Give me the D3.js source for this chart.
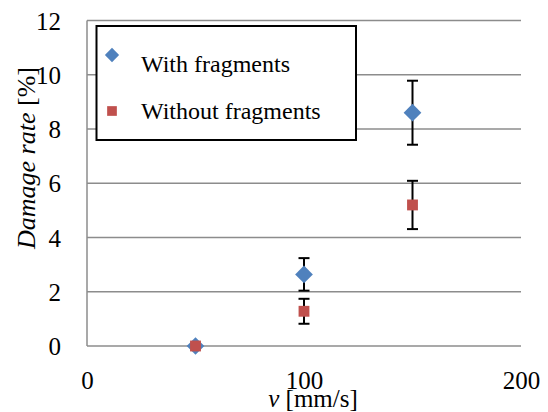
<!DOCTYPE html>
<html>
<head>
<meta charset="utf-8">
<script src="https://cdn.jsdelivr.net/npm/d3@7"></script>
</head>
<body style="margin:0">
<svg id="chart" width="548" height="412"></svg>
<script>
// speeds [mm/s]
var speeds = [50, 100, 150];
// damage rate [%] with error bars
var withFrag = [0, 2.64, 8.6];
var withErr = [0, 0.6, 1.18];
var withoutFrag = [0, 1.28, 5.2];
var withoutErr = [0, 0.46, 0.89];
var yTicks = [0, 2, 4, 6, 8, 10, 12];
var xTicks = [0, 100, 200];
var seriesNames = ["With fragments", "Without fragments"];

var serif = "Liberation Serif";

// put the serif face on a text both ways
function font(sel, size) {
  sel.attr("font-family", serif)
    .style("font-family", function () { return "'" + serif + "'"; })
    .style("font-size", size);
}

var svg = d3.select("#chart");
var margin = {top: 20.5, left: 87, right: 27, bottom: 66};
var width = 548 - margin.left - margin.right,
    height = 412 - margin.top - margin.bottom;

var g = svg.append("g")
  .attr("transform", "translate(" + margin.left + "," + margin.top + ")");

var x = d3.scaleLinear().domain([0, 200]).range([0, width]);
var y = d3.scaleLinear().domain([0, 12]).range([height, 0]);

// gridlines
g.selectAll(".grid")
  .data(yTicks)
  .enter()
  .append("line")
  .attr("x1", 0)
  .attr("x2", width)
  .attr("y1", function (d) { return y(d); })
  .attr("y2", function (d) { return y(d); })
  .attr("stroke", "#8c8c8c")
  .attr("stroke-width", 1.5);

// left axis line
g.append("line")
  .attr("x1", 0).attr("x2", 0)
  .attr("y1", 0).attr("y2", height)
  .attr("stroke", "#8c8c8c")
  .attr("stroke-width", 1.5);

// y axis labels
var yAxis = d3.axisLeft(y).tickValues(yTicks).tickSize(0).tickPadding(26);
g.append("g")
  .call(yAxis)
  .attr("font-family", serif)
  .attr("font-size", null)
  .call(function (s) { s.select(".domain").remove(); })
  .selectAll("text")
  .call(font, "25px")
  .attr("fill", "#000")
  .attr("dy", "0.34em");

// x axis labels
var xAxis = d3.axisBottom(x).tickValues(xTicks).tickSize(0).tickPadding(43);
g.append("g")
  .attr("transform", "translate(0," + height + ")")
  .call(xAxis)
  .attr("font-family", serif)
  .attr("font-size", null)
  .call(function (s) { s.select(".domain").remove(); })
  .selectAll("text")
  .call(font, "25px")
  .attr("fill", "#000")
  .attr("dy", "0");

// axis titles
var yt = svg.append("text")
  .attr("transform", "translate(35,158) rotate(-90)")
  .attr("text-anchor", "middle")
  .call(font, "26px");
yt.append("tspan").call(font, "26px").style("font-style", "italic").text("Damage rate");
yt.append("tspan").call(font, "26px").text(" [%]");

var xt = svg.append("text")
  .attr("x", 313)
  .attr("y", 407)
  .attr("text-anchor", "middle")
  .call(font, "25px");
xt.append("tspan").call(font, "25px").style("font-style", "italic").text("v");
xt.append("tspan").call(font, "25px").text(" [mm/s]");

// error bars
function errorBars(vals, errs) {
  var data = speeds.map(function (s, i) { return {x: s, y: vals[i], e: errs[i]}; })
    .filter(function (d) { return d.e > 0; });
  var eb = g.append("g").attr("stroke", "#000").attr("stroke-width", 2);
  eb.selectAll(".v").data(data).enter().append("line")
    .attr("x1", function (d) { return x(d.x); })
    .attr("x2", function (d) { return x(d.x); })
    .attr("y1", function (d) { return y(d.y - d.e); })
    .attr("y2", function (d) { return y(d.y + d.e); });
  [-1, 1].forEach(function (sign) {
    eb.selectAll(".c" + sign).data(data).enter().append("line")
      .attr("x1", function (d) { return x(d.x) - 5.5; })
      .attr("x2", function (d) { return x(d.x) + 5.5; })
      .attr("y1", function (d) { return y(d.y + sign * d.e); })
      .attr("y2", function (d) { return y(d.y + sign * d.e); });
  });
}
errorBars(withFrag, withErr);
errorBars(withoutFrag, withoutErr);

var diamond = d3.symbol().type(d3.symbolDiamond2).size(200);
var square = d3.symbol().type(d3.symbolSquare2).size(150);

g.selectAll(".dia")
  .data(speeds)
  .enter()
  .append("path")
  .attr("d", diamond)
  .attr("transform", function (d, i) { return "translate(" + x(d) + "," + y(withFrag[i]) + ")"; })
  .attr("fill", "#4f81bd");

g.selectAll(".sq")
  .data(speeds)
  .enter()
  .append("path")
  .attr("d", square)
  .attr("transform", function (d, i) { return "translate(" + x(d) + "," + y(withoutFrag[i]) + ")"; })
  .attr("fill", "#c0504d");

// legend
var lg = svg.append("g");
lg.append("rect")
  .attr("x", 96.5).attr("y", 26)
  .attr("width", 259.5).attr("height", 114)
  .attr("fill", "#fff")
  .attr("stroke", "#000")
  .attr("stroke-width", 2);
lg.append("path")
  .attr("d", d3.symbol().type(d3.symbolDiamond2).size(130))
  .attr("transform", "translate(112,55)")
  .attr("fill", "#4f81bd");
lg.append("path")
  .attr("d", d3.symbol().type(d3.symbolSquare2).size(120))
  .attr("transform", "translate(112,111)")
  .attr("fill", "#c0504d");
lg.selectAll(".lt")
  .data(seriesNames)
  .enter()
  .append("text")
  .attr("x", 141)
  .attr("y", function (d, i) { return [72, 119][i]; })
  .call(font, "24px")
  .text(function (d) { return d; });
</script>
</body>
</html>
